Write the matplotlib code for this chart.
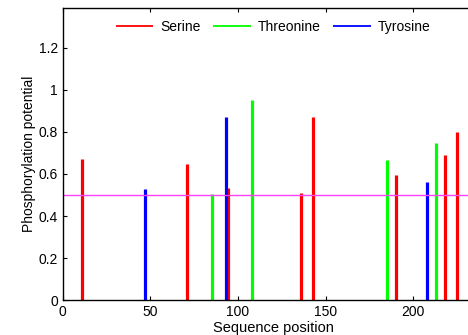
import matplotlib.pyplot as plt

plt.rcParams['font.family'] = ['Liberation Sans', 'DejaVu Sans']

# Predicted phosphorylation sites (position, score)
serine_pos = [11, 71, 94.5, 136, 143, 190, 218, 225]
serine_val = [0.670, 0.647, 0.533, 0.510, 0.871, 0.595, 0.690, 0.799]
threonine_pos = [85, 108, 185, 213]
threonine_val = [0.505, 0.951, 0.666, 0.747]
tyrosine_pos = [47, 93, 208]
tyrosine_val = [0.529, 0.871, 0.562]
threshold = 0.5

fig = plt.figure(figsize=(4.68, 3.35), dpi=100)
ax = fig.add_axes([0.134, 0.1036, 0.899, 0.874])

ax.vlines(serine_pos, 0, serine_val, color="#ff0000", lw=2.3, label="Serine")
ax.vlines(threonine_pos, 0, threonine_val, color="#00ff00", lw=2.3, label="Threonine")
ax.vlines(tyrosine_pos, 0, tyrosine_val, color="#0000ff", lw=2.3, label="Tyrosine")
ax.axhline(threshold, color="#ff40ff", lw=1)

ax.set_xlim(0, 240)
ax.set_ylim(0, 1.39)
ax.set_xticks([0, 50, 100, 150, 200])
ax.set_yticks([0, 0.2, 0.4, 0.6, 0.8, 1.0, 1.2])
ax.set_yticklabels(["0", "0.2", "0.4", "0.6", "0.8", "1", "1.2"])
ax.tick_params(direction="in", top=True, right=True, labelsize=10, length=3, width=0.8)
for s in ax.spines.values():
    s.set_linewidth(1.0)

ax.set_xlabel("Sequence position", fontsize=10.5, labelpad=1)
ax.set_ylabel("Phosphorylation potential", fontsize=10, labelpad=2)

leg = ax.legend(loc="upper center", ncol=3, frameon=False, fontsize=10,
                handlelength=2.7, columnspacing=0.9, handletextpad=0.5,
                bbox_to_anchor=(0.5, 1.0))
for h in leg.legend_handles:
    h.set_linewidth(1.3)

fig.savefig("out.png", dpi=100)
